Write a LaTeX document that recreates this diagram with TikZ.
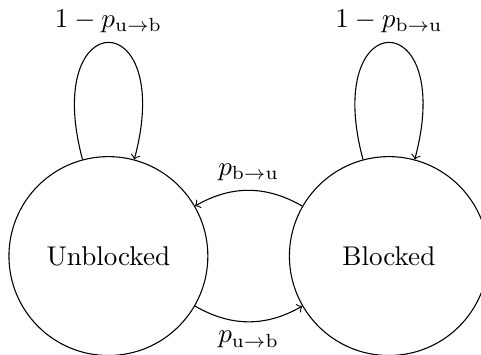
\documentclass[tikz,border=0pt]{standalone}
\begin{document}
\begin{tikzpicture}[
  statenode/.style={circle,draw,minimum size=73.4pt,inner sep=0pt},
  >=to,
  every loop/.style={looseness=8,min distance=5mm}]
\useasboundingbox (-40pt,-36.2pt) rectangle (137.5pt,94.5pt);
\node[statenode] (u) at (0,0) {Unblocked};
\node[statenode] (b) at (103.5pt,0) {Blocked};
\path[->]
  (u) edge[loop above] node[above] {$1-p_{\mathrm{u}\to\mathrm{b}}$} ()
  (b) edge[loop above] node[above] {$1-p_{\mathrm{b}\to\mathrm{u}}$} ()
  (b) edge[bend right] node[above] {$p_{\mathrm{b}\to\mathrm{u}}$} (u)
  (u) edge[bend right] node[below] {$p_{\mathrm{u}\to\mathrm{b}}$} (b);
\end{tikzpicture}
\end{document}
